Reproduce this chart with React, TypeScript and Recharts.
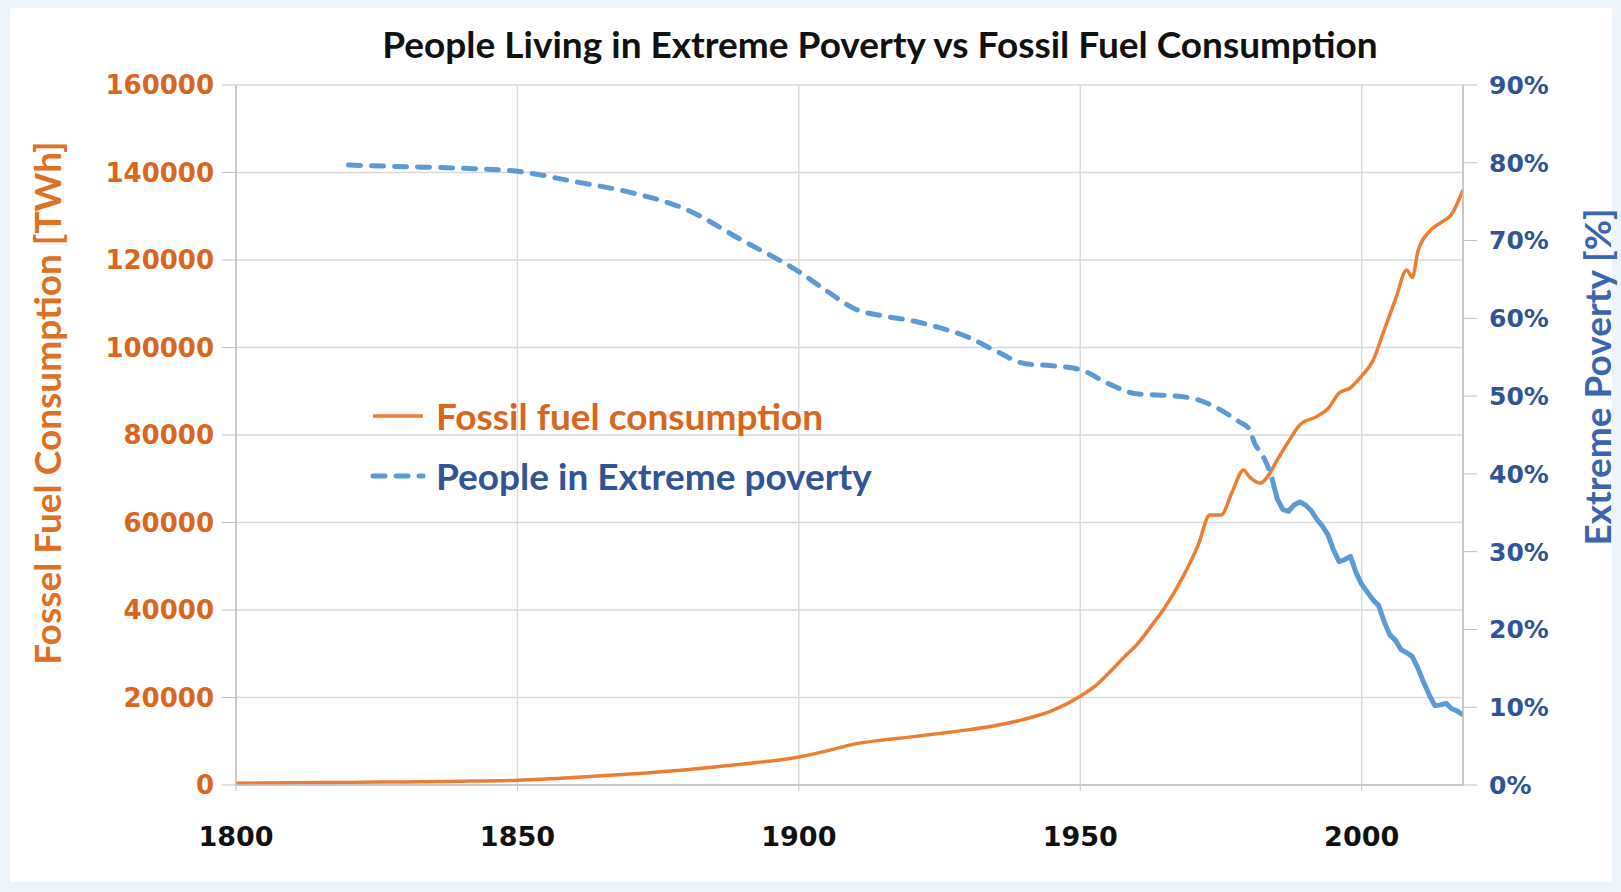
import React from 'react';
import { LineChart, Line, XAxis, YAxis, CartesianGrid } from 'recharts';

// values
const fossilYears = [
  1800, 1810, 1820, 1830, 1840, 1850, 1860, 1870, 1880, 1890, 1900, 1905, 1910, 1915, 1920, 1925,
  1930, 1935, 1940, 1945, 1950, 1953, 1955, 1958, 1960, 1963, 1965, 1968, 1971, 1973, 1975, 1977,
  1979, 1980, 1982, 1983, 1985, 1987, 1989, 1992, 1994, 1996, 1998, 2000, 2002, 2004, 2006, 2008,
  2009, 2010, 2012, 2014, 2016, 2017, 2018,
];
const fossilTwh = [
  400, 500, 600, 700, 850, 1100, 1700, 2500, 3500, 4800, 6400, 7800, 9400, 10300, 11000, 11800,
  12600, 13600, 15000, 17000, 20300, 23000, 25500, 29500, 32000, 37000, 40500, 47000, 55000, 61700, 61700, 67000,
  72000, 70500, 69000, 70000, 74300, 78500, 82300, 84200, 86000, 89600, 90800, 93500, 97000, 104000, 111000, 117700,
  116000, 122000, 126500, 128500, 130500, 133000, 136000,
];

const povertyYears = [
  1820, 1830, 1840, 1850, 1860, 1870, 1880, 1890, 1900, 1905, 1910, 1915, 1920, 1925, 1930, 1935,
  1940, 1945, 1950, 1955, 1960, 1965, 1970, 1975, 1978, 1980, 1981, 1982, 1983, 1984, 1985, 1986,
  1987, 1988, 1989, 1990, 1991, 1992, 1993, 1994, 1995, 1996, 1997, 1998, 1999, 2000, 2001, 2002,
  2003, 2004, 2005, 2006, 2007, 2008, 2009, 2010, 2011, 2012, 2013, 2014, 2015, 2016, 2017, 2018,
];
const povertyPct = [
  79.7, 79.5, 79.3, 78.9, 77.6, 76.2, 74.0, 70.0, 66.0, 63.5, 61.2, 60.3, 59.7, 58.8, 57.6, 55.8,
  54.2, 53.9, 53.4, 51.6, 50.3, 50.1, 49.7, 48.2, 46.8, 45.8, 43.9, 42.8, 41.5, 39.6, 36.8, 35.4,
  35.2, 36.0, 36.4, 36.0, 35.3, 34.2, 33.3, 32.2, 30.2, 28.7, 29.0, 29.4, 27.3, 25.8, 24.8, 23.8,
  23.1, 21.0, 19.3, 18.6, 17.4, 17.0, 16.5, 15.0, 13.2, 11.6, 10.2, 10.3, 10.5, 9.8, 9.5, 9.0,
];

const yearTicks = [1800, 1850, 1900, 1950, 2000];
const fossilTicks = [0, 20000, 40000, 60000, 80000, 100000, 120000, 140000, 160000];
const povertyTicks = [0, 10, 20, 30, 40, 50, 60, 70, 80, 90];

const SPLIT_YEAR = 1984; // the dashes run together after this in the original

const fossilData = fossilYears.map((year, i) => ({ year, value: fossilTwh[i] }));
const povertyData = povertyYears.map((year, i) => ({ year, value: povertyPct[i] }));
const povertyDashed = povertyData.filter((d) => d.year <= SPLIT_YEAR);
const povertySolid = povertyData.filter((d) => d.year >= SPLIT_YEAR);

const ORANGE = '#ED7D31';
const ORANGE_TEXT = '#D9661C';
const BLUE = '#5B9BD5';
const BLUE_TEXT = '#2F5597';
const TICK_FONT = '"DejaVu Sans", Verdana, sans-serif';
const LABEL_FONT = 'Lato, "Open Sans", sans-serif';
const LABEL_SIZE = 37;

const legendItems = [
  { name: 'Fossil fuel consumption', stroke: ORANGE, text: ORANGE_TEXT, dashed: false },
  { name: 'People in Extreme poverty', stroke: BLUE, text: BLUE_TEXT, dashed: true },
];

function LegendBox() {
  return (
    <div style={{ position: 'absolute', left: 370, top: 386 }}>
      {legendItems.map((item) => (
        <div key={item.name} style={{ display: 'flex', alignItems: 'center', height: 60 }}>
          <svg width={56} height={12}>
            <line
              x1={3}
              y1={6}
              x2={53}
              y2={6}
              stroke={item.stroke}
              strokeWidth={item.dashed ? 5 : 3.5}
              strokeDasharray={item.dashed ? '12 11' : undefined}
              strokeLinecap={item.dashed ? 'round' : 'butt'}
            />
          </svg>
          <span
            style={{
              marginLeft: 10,
              color: item.text,
              fontFamily: LABEL_FONT,
              fontWeight: 700,
              fontSize: LABEL_SIZE,
              lineHeight: '44px',
              whiteSpace: 'nowrap',
            }}
          >
            {item.name}
          </span>
        </div>
      ))}
    </div>
  );
}

function LeftLabel({ viewBox }: any) {
  const x = viewBox.x + 10;
  const y = viewBox.y + viewBox.height / 2 - 32;
  return (
    <text x={x} y={y} transform={`rotate(-90 ${x} ${y})`} textAnchor="middle" dominantBaseline="central"
      fill="#E0701F" fontFamily={LABEL_FONT} fontWeight={700} fontSize={LABEL_SIZE}>
      Fossel Fuel Consumption [TWh]
    </text>
  );
}

function RightLabel({ viewBox }: any) {
  const x = viewBox.x + 133;
  const y = viewBox.y + viewBox.height / 2 - 58;
  return (
    <text x={x} y={y} transform={`rotate(-90 ${x} ${y})`} textAnchor="middle" dominantBaseline="central"
      fill="#3A66B0" fontFamily={LABEL_FONT} fontWeight={700} fontSize={LABEL_SIZE}>
      Extreme Poverty [%]
    </text>
  );
}

export default function App() {
  return (
    <div style={{ position: 'absolute', left: 0, top: 0, width: 1621, height: 892, background: '#EDF4FC' }}>
      <div style={{ position: 'absolute', left: 10, top: 8, width: 1602, height: 874, background: '#fff' }} />
      <div style={{ position: 'absolute', left: 0, top: 0 }}>
        <LineChart width={1621} height={892} margin={{ top: 85, right: 38, bottom: 47, left: 36 }}>
          <CartesianGrid yAxisId="left" stroke="#D9D9D9" strokeWidth={1.5} />
          <XAxis
            dataKey="year"
            type="number"
            domain={[1800, 2018]}
            ticks={yearTicks}
            allowDataOverflow
            height={60}
            tickSize={6}
            tickMargin={36}
            axisLine={{ stroke: '#BFBFBF', strokeWidth: 1.5 }}
            tickLine={{ stroke: '#BFBFBF' }}
            tick={{ fill: '#111', fontFamily: TICK_FONT, fontWeight: 700, fontSize: 27 }}
          />
          <YAxis
            yAxisId="left"
            domain={[0, 160000]}
            ticks={fossilTicks}
            width={200}
            tickSize={14}
            tickMargin={8}
            axisLine={{ stroke: '#BFBFBF', strokeWidth: 1.5 }}
            tickLine={{ stroke: '#BFBFBF' }}
            tick={{ fill: ORANGE_TEXT, fontFamily: TICK_FONT, fontWeight: 700, fontSize: 26 }}
            label={<LeftLabel />}
          />
          <YAxis
            yAxisId="right"
            orientation="right"
            domain={[0, 90]}
            ticks={povertyTicks}
            tickFormatter={(v: number) => `${v}%`}
            width={120}
            tickSize={14}
            tickMargin={12}
            axisLine={{ stroke: '#BFBFBF', strokeWidth: 1.5 }}
            tickLine={{ stroke: '#BFBFBF' }}
            tick={{ fill: BLUE_TEXT, fontFamily: TICK_FONT, fontWeight: 700, fontSize: 25 }}
            label={<RightLabel />}
          />
          <Line
            yAxisId="left"
            data={fossilData}
            dataKey="value"
            name="Fossil fuel consumption"
            type="monotone"
            stroke={ORANGE}
            strokeWidth={3.5}
            dot={false}
            isAnimationActive={false}
          />
          <Line
            yAxisId="right"
            data={povertyDashed}
            dataKey="value"
            name="People in Extreme poverty"
            type="monotone"
            stroke={BLUE}
            strokeWidth={5}
            strokeDasharray="12 11"
            strokeLinecap="round"
            dot={false}
            isAnimationActive={false}
          />
          <Line
            yAxisId="right"
            data={povertySolid}
            dataKey="value"
            name="People in Extreme poverty (annual)"
            type="linear"
            stroke={BLUE}
            strokeWidth={5}
            strokeLinejoin="round"
            dot={false}
            isAnimationActive={false}
          />
        </LineChart>
      </div>
      <LegendBox />
      <div
        style={{
          position: 'absolute',
          left: 880,
          top: 22,
          transform: 'translateX(-50%)',
          whiteSpace: 'nowrap',
          fontFamily: LABEL_FONT,
          fontWeight: 700,
          fontSize: LABEL_SIZE,
          lineHeight: '44px',
          color: '#111',
        }}
      >
        People Living in Extreme Poverty vs Fossil Fuel Consumption
      </div>
    </div>
  );
}
